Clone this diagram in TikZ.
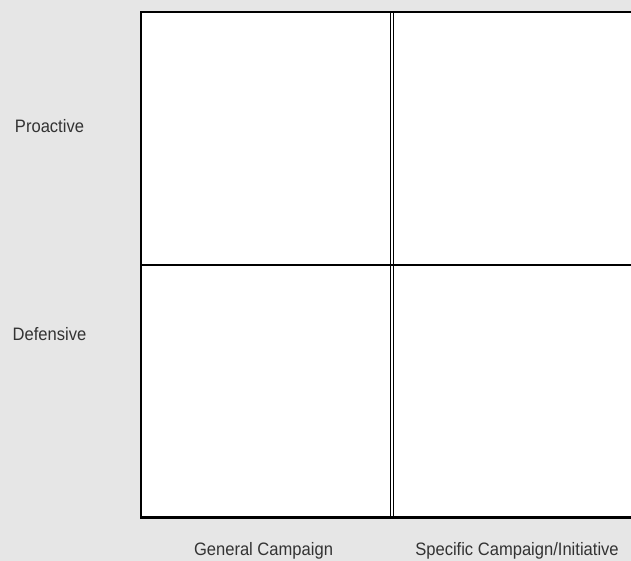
\documentclass[tikz,border=0pt]{standalone}
\usepackage{fontspec}
\setmainfont{Liberation Sans}
\definecolor{bggray}{HTML}{E6E6E6}
\definecolor{txt}{HTML}{333333}
\begin{document}
\begin{tikzpicture}[x=1pt,y=-1pt,
  lab/.style={text=txt,font=\fontsize{18}{20}\selectfont,inner sep=0pt,anchor=center,xscale=0.92},
  grid/.style={draw=black,line width=2.2pt}]
\useasboundingbox (0,0) rectangle (631,560);
\fill[bggray] (-5,-5) rectangle (636,566);
\fill[white] (141,12) rectangle (636,517.5);
\draw[grid] (636,12) -- (141,12) -- (141,517.5) -- (636,517.5);
\draw[grid] (141,265) -- (636,265);
\draw[black,line width=1.6pt] (390.5,12) -- (390.5,517.5);
\draw[black,line width=1.6pt] (393.5,12) -- (393.5,517.5);
\node[lab] (pro) at (49.5,126.5) {Proactive};
\node[lab] (def) at (49.5,334) {Defensive};
\node[lab] (gen) at (263.5,551) {General Campaign};
\node[lab] (spe) at (517,551) {Specific Campaign/Initiative};
\end{tikzpicture}
\end{document}
